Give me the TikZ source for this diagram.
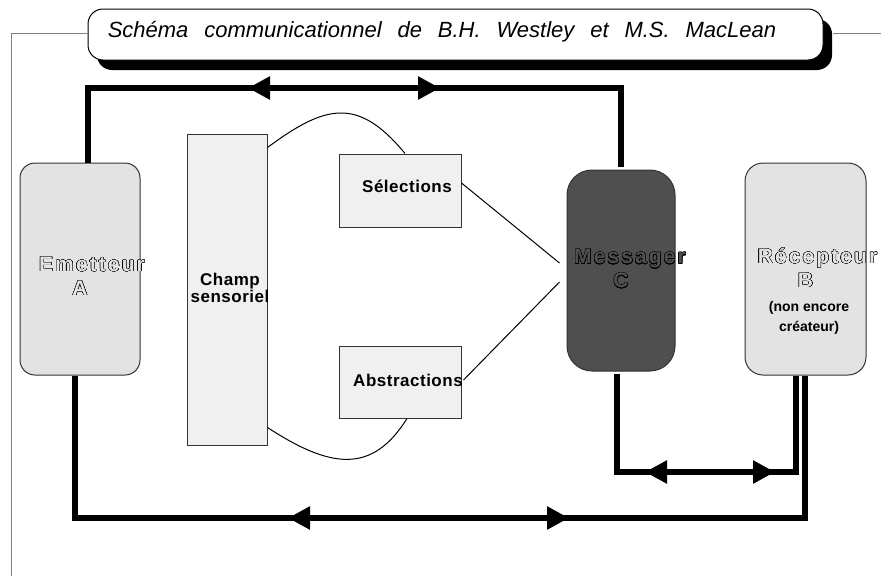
\documentclass[tikz,border=0pt]{standalone}
\usepackage{fontspec}
\setmainfont{Liberation Sans}
\newfontfamily\outlinefont[LetterSpace=10]{Liberation Sans}
\newfontfamily\labelfont[LetterSpace=3]{Liberation Sans}
\newfontfamily\titlefont[WordSpace=2.6]{Liberation Sans}
\usepackage{contour}
\contourlength{0.45pt}
\usepackage{tikz}
\usetikzlibrary{arrows.meta, positioning, calc, shadows}
\definecolor{boxlight}{gray}{0.89}
\definecolor{boxpale}{gray}{0.94}
\definecolor{boxdark}{gray}{0.31}
\definecolor{edgegray}{gray}{0.2}
\newcommand{\outl}[2]{\contour{black}{\textcolor{#1}{#2}}}

\begin{document}
\begin{tikzpicture}[x=1pt, y=-1pt,
  box/.style={draw=edgegray, line width=1pt, inner sep=0pt},
  frame/.style={draw=gray, line width=1pt},
  link/.style={line width=1pt},
  flow/.style={line width=6pt},
  twotips/.style={flow, {Triangle[length=22pt,width=22pt]}-{Triangle[length=22pt,width=22pt]}},
  outlabel/.style={align=center, inner sep=0pt, font=\fontsize{21}{24}\selectfont\outlinefont\bfseries},
  boldlabel/.style={align=center, inner sep=0pt, font=\fontsize{17}{17}\selectfont\labelfont\bfseries},
  smalllabel/.style={align=center, inner sep=0pt, font=\fontsize{14}{20}\selectfont\bfseries},
  titletext/.style={inner sep=0pt, font=\fontsize{22}{24}\selectfont\titlefont\itshape}]
\useasboundingbox (0,0) rectangle (881,576);

% title with its shadow
\node[draw, line width=1pt, rounded corners=15pt, minimum width=735pt, minimum height=51pt,
      fill=white, drop shadow={opacity=1, fill=black, shadow xshift=9pt, shadow yshift=-10pt}]
      (title) at (455.5,34.5) {};
\node[titletext, anchor=base] (titletxt) at (442,37) {Schéma communicationnel de B.H. Westley et M.S. MacLean};
\coordinate (frameright) at (881,33);
\coordinate (framebottom) at (11,576);
\draw[frame] (framebottom) |- (title.west |- frameright);
\draw[frame] ([xshift=9pt]title.east |- frameright) -- (frameright);

% boxes
\node[box, fill=boxlight, rounded corners=15pt, minimum width=120pt, minimum height=212pt] (emetteur) at (80,269) {};
\node[box, fill=boxpale, minimum width=80pt, minimum height=311pt] (champ) at (227,289.5) {};
\node[box, fill=boxpale, minimum width=122pt, minimum height=73pt] (selections) at (400,190.5) {};
\node[box, fill=boxpale, minimum width=122pt, minimum height=72pt] (abstractions) at (400,382) {};
\node[box, fill=boxdark, rounded corners=25pt, minimum width=108pt, minimum height=201pt] (messager) at (621,270.5) {};
\node[box, fill=boxlight, rounded corners=18pt, minimum width=121pt, minimum height=212pt] (recepteur) at (805.5,269) {};

% texts
\node[outlabel] (emetteurtxt) at (80,276.5) {\hspace*{24pt}\outl{boxlight}{Emetteur}\\\outl{boxlight}{A}};
\node[outlabel] (messagertxt) at (621,269) {\hspace*{18pt}\outl{boxdark}{Messager}\\\outl{boxdark}{C}};
\node[outlabel] (recepteurtxt) at (805.5,268) {\hspace*{24pt}\outl{boxlight}{Récepteur}\\\outl{boxlight}{B}};
\node[smalllabel] (recepteurnote) at (809,318) {(non encore\\créateur)};
\node[boldlabel] (champtxt) at (230,287.5) {Champ\\sensoriel};
\node[boldlabel] (selectionstxt) at (407,186) {Sélections};
\node[boldlabel] (abstractionstxt) at (408,380) {Abstractions};

% thin links
\draw[link] ([yshift=-14pt]champ.north east) .. controls +(58,-43) and +(-47,-57) .. ([xshift=5pt]selections.north);
\draw[link] ([yshift=18pt]champ.south east) .. controls +(63,41) and +(-35,56) .. ([xshift=7pt]abstractions.south);
\coordinate (msgupper) at ([xshift=-7pt,yshift=7.5pt]messager.west);
\coordinate (msglower) at ([xshift=-7pt,yshift=-11.5pt]messager.west);
\draw[link] ([yshift=7.5pt]selections.east) -- (msgupper);
\draw[link] ([xshift=2pt,yshift=2pt]abstractions.east) -- (msglower);

% thick feedback lines
\coordinate (toprail) at (0,88);
\coordinate (midrail) at (0,472);
\coordinate (lowrail) at (0,518);
\draw[flow] ([xshift=8pt]emetteur.north) |- (toprail -| messager.north) -- ([yshift=3pt]messager.north);
\coordinate (topleft) at (248,88);
\coordinate (topright) at (440,88);
\draw[twotips] (topleft) -- (topright);

\draw[flow] ([xshift=-4pt,yshift=-2pt]messager.south) |- ([xshift=-9.5pt]recepteur.south |- midrail) -- ([xshift=-9.5pt]recepteur.south);
\coordinate (midleft) at (645,472);
\coordinate (midright) at (775,472);
\draw[twotips] (midleft) -- (midright);

\draw[flow] ([xshift=-0.5pt]recepteur.south) |- ([xshift=-5pt]emetteur.south |- lowrail) -- ([xshift=-5pt]emetteur.south);
\coordinate (lowleft) at (288,518);
\coordinate (lowright) at (569,518);
\draw[twotips] (lowleft) -- (lowright);
\end{tikzpicture}
\end{document}
